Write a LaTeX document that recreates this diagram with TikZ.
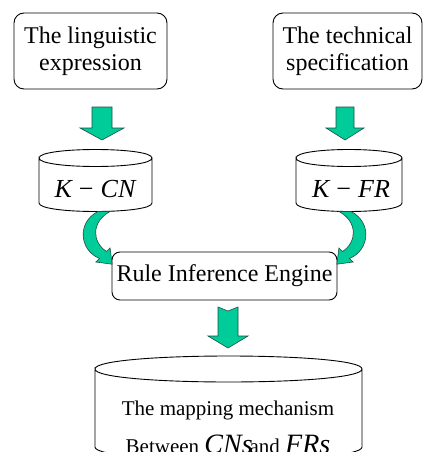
\documentclass[tikz,border=0pt]{standalone}
\usepackage{fontspec}
\setmainfont{Liberation Serif}
\definecolor{grn}{HTML}{00CC99}
\definecolor{grnd}{HTML}{008F6B}
\definecolor{grnl}{HTML}{1E4F40}
\newcommand\mycyl[5]{%
 \fill[white] (#1,#3) .. controls (#1,{#3-1.3333*#5}) and (#2,{#3-1.3333*#5}) .. (#2,#3) -- (#2,#4) .. controls (#2,{#4+1.3333*#5}) and (#1,{#4+1.3333*#5}) .. (#1,#4) -- cycle;
 \draw[cyl] (#1,#3) .. controls (#1,{#3-1.3333*#5}) and (#2,{#3-1.3333*#5}) .. (#2,#3) .. controls (#2,{#3+1.3333*#5}) and (#1,{#3+1.3333*#5}) .. (#1,#3) -- (#1,#4) .. controls (#1,{#4+1.3333*#5}) and (#2,{#4+1.3333*#5}) .. (#2,#4) -- (#2,#3);
}
\newcommand\downarr[6]{%
 \filldraw[garrow] ({#1-#5},#2) -- ({#1+#5},#2) -- ({#1+#5},#3) -- ({#1+#6},#3) -- (#1,#4) -- ({#1-#6},#3) -- ({#1-#5},#3) -- cycle;
}
\newcommand\curvarr{%
 \filldraw[garrow] (98,211.5) .. controls (77,222) and (79,250) .. (99.5,258.5) -- (95.9,262) -- (112.1,264.2) -- (110.1,248) -- (106.5,251.5) .. controls (92,242) and (91,222) .. (110,211.5) -- cycle;
}
\begin{document}
\begin{tikzpicture}[x=1pt,y=-1pt]
\tikzset{
 rbox/.style={draw=black, line width=0.9pt, rounded corners=10pt, fill=white, align=center, inner sep=0pt, font=\fontsize{24}{27}\selectfont},
 garrow/.style={fill=grn, draw=grnl, line width=0.6pt, line join=miter},
 cyl/.style={draw=black, line width=0.9pt},
 ktxt/.style={inner sep=0pt, anchor=base, font=\fontsize{26}{28}\selectfont},
 btxt/.style={inner sep=0pt, anchor=base, font=\fontsize{21}{24}\selectfont},
}
\clip (0,0) rectangle (423,452);
% top boxes
\node[rbox, minimum width=153pt, minimum height=76pt] (lin) at (90.5,51) {The linguistic\\expression};
\node[rbox, minimum width=149pt, minimum height=76pt] (tec) at (347.5,51) {The technical\\specification};
% straight arrows
\downarr{102}{107}{128}{140}{10}{22}
\downarr{345}{107}{128}{140}{9}{19}
% cylinders
\mycyl{39}{152}{158}{203}{8.5}
\mycyl{296}{402}{158}{203}{8.5}
\node[ktxt] (kcn) at (95,197) {\itshape K\kern7pt\upshape −\kern7pt\itshape CN};
\node[ktxt] (kfr) at (351,197) {\itshape K\kern7pt\upshape −\kern7pt\itshape FR};
% rule engine
\node[rbox, rounded corners=8pt, minimum width=225pt, minimum height=48pt] (rie) at (224.5,276) {Rule Inference Engine};
% curved arrows
\curvarr
\begin{scope}[shift={(449,0)}, xscale=-1]
\curvarr
\end{scope}
% big arrow
\filldraw[garrow] (218,307) -- (228,311) -- (238,307) -- (238,336) -- (248,336) -- (228,348) -- (208,336) -- (218,336) -- cycle;
% bottom cylinder
\mycyl{95}{362}{369}{447}{13}
\node[btxt] (map1) at (228,415) {The mapping mechanism};
\node[btxt] (map2) at (228,453) {Between {\fontsize{28}{30}\selectfont\itshape CNs}\kern-3pt and {\fontsize{28}{30}\selectfont\itshape FRs}};
\end{tikzpicture}
\end{document}
